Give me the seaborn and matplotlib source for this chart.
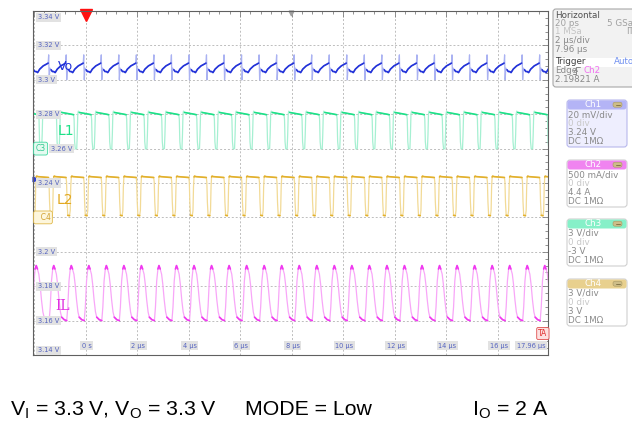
import numpy as np
import pandas as pd
import matplotlib
matplotlib.use('Agg')
import matplotlib.pyplot as plt
import seaborn as sns
from matplotlib.patches import FancyBboxPatch, Rectangle

# screen span (Ch1 scale is used for the graticule labels)
t_left, t_right = -2.04, 17.96
v_bottom, v_top = 3.14, 3.34
period_us = 0.681
t_first_peak = 0.128

grid_volts = [3.34, 3.32, 3.30, 3.28, 3.26, 3.24, 3.22, 3.20, 3.18, 3.16, 3.14]
volt_labels = ['3.34 V', '3.32 V', '3.3 V', '3.28 V', '3.26 V', '3.24 V', '', '3.2 V', '3.18 V', '3.16 V', '3.14 V']
time_ticks = [0, 2, 4, 6, 8, 10, 12, 14, 16]
time_labels = ['0 s', '2 µs', '4 µs', '6 µs', '8 µs', '10 µs', '12 µs', '14 µs', '16 µs']

# one switching cycle of each trace, phase 0 = inductor current peak
vo_phase = [0.00, 0.08, 0.20, 0.40, 0.60, 0.68, 0.71, 0.74, 0.78, 0.85, 0.92]
vo_volt = [3.3048, 3.3042, 3.3062, 3.3081, 3.3092, 3.3097, 3.3145, 3.3000, 3.3068, 3.3058, 3.3048]
vo_dark = [1, 1, 1, 1, 1, 1, 0, 0, 0, 1, 1]

l1_phase = [0.00, 0.13, 0.16, 0.19, 0.23, 0.31, 0.34, 0.37, 0.40, 0.46]
l1_volt = [3.2800, 3.2797, 3.2770, 3.2640, 3.2598, 3.2600, 3.2680, 3.2800, 3.2818, 3.2810]
l1_dark = [1, 1, 0, 0, 0, 0, 0, 0, 0, 1]

l2_phase = [0.00, 0.03, 0.10, 0.70, 0.73, 0.76, 0.80, 0.90, 0.94, 0.97]
l2_volt = [3.2435, 3.2440, 3.2437, 3.2432, 3.2405, 3.2290, 3.2212, 3.2210, 3.2240, 3.2380]
l2_dark = [1, 1, 1, 1, 0, 0, 1, 1, 0, 0]

il_phase = [0.00, 0.07, 0.15, 0.22, 0.30, 0.38, 0.45, 0.60, 0.74, 0.80, 0.87, 0.94]
il_volt = [3.192, 3.190, 3.187, 3.181, 3.172, 3.165, 3.162, 3.1605, 3.160, 3.168, 3.183, 3.190]
il_dark = [1, 1, 0, 0, 0, 0, 1, 1, 1, 0, 0, 1]

traces = [
    ('Vo', vo_phase, vo_volt, vo_dark, '#aab2f2', '#2232d8'),
    ('L1', l1_phase, l1_volt, l1_dark, '#a6f0d2', '#1ee088'),
    ('L2', l2_phase, l2_volt, l2_dark, '#f2da96', '#e2b02c'),
    ('IL', il_phase, il_volt, il_dark, '#f8a6f8', '#f038f0'),
]


def trace_frame(phase, volt, dark):
    cycles = np.arange(-4, 30)
    t = (t_first_peak + (cycles[:, None] + np.array(phase)[None, :]) * period_us).ravel()
    df = pd.DataFrame({'t': t,
                       'v': np.tile(volt, len(cycles)),
                       'dark': np.tile(dark, len(cycles)).astype(bool)})
    df = df[(df.t > t_left - 1) & (df.t < t_right + 1)].reset_index(drop=True)
    df['run'] = (df['dark'] != df['dark'].shift()).cumsum()
    return df


sns.set_style('white')
plt.rcParams['font.family'] = ['DejaVu Sans']

fig = plt.figure(figsize=(6.42, 4.21), dpi=100)
ax = fig.add_axes([33 / 642, 66 / 421, 515 / 642, 344 / 421])

for name, ph, vv, dk, light, dark in traces:
    df = trace_frame(ph, vv, dk)
    sns.lineplot(data=df, x='t', y='v', color=light, lw=0.9, estimator=None,
                 sort=False, legend=False, ax=ax)
    sns.lineplot(data=df[df.dark], x='t', y='v', units='run', color=dark, lw=1.2,
                 estimator=None, sort=False, legend=False, ax=ax)

ax.set_xlim(t_left, t_right)
ax.set_ylim(v_bottom, v_top)
ax.set_xlabel('')
ax.set_ylabel('')
ax.set_xticks([-2] + time_ticks)
ax.set_yticks(grid_volts)
ax.set_xticks(np.arange(-2, 18, 0.4), minor=True)
ax.set_yticks(np.arange(3.14, 3.341, 0.004), minor=True)
ax.tick_params(which='both', direction='in', top=True, right=True, labelbottom=False,
               labelleft=False, color='#808080', width=0.6)
ax.tick_params(which='major', length=4)
ax.tick_params(which='minor', length=2.5)
ax.grid(True, which='major', color='#bdbdbd', lw=0.7, ls=(0, (2, 2)))
for s in ax.spines.values():
    s.set_color('#606060')
    s.set_linewidth(0.8)

# graticule labels
lab_box = dict(boxstyle='square,pad=0.25', fc='#e2e2e2', ec='none')
for v, lab in zip(grid_volts, volt_labels):
    if not lab:
        continue
    yv = min(max(v, 3.1428), 3.3363)
    x0 = t_left + 0.2 if v != 3.26 else t_left + 0.7
    ax.text(x0, yv, lab, fontsize=4.8, color='#5563c0', va='center', ha='left', bbox=lab_box)
for tt, lab in zip(time_ticks, time_labels):
    ax.text(tt + 0.05, 3.1455, lab, fontsize=4.8, color='#5563c0', va='center', ha='center', bbox=lab_box)
ax.text(t_right - 0.1, 3.1455, '17.96 µs', fontsize=4.8, color='#5563c0', va='center', ha='right', bbox=lab_box)

# trace names
ax.text(-0.77, 3.3079, 'Vo', fontsize=9, color='#2232d8', ha='center', va='center')
ax.text(-0.77, 3.2702, 'L1', fontsize=10, color='#1ee088', ha='center', va='center')
ax.text(-0.81, 3.2302, 'L2', fontsize=10, color='#e2a820', ha='center', va='center')
ax.text(-0.89, 3.1687, 'IL', fontsize=10, color='#e030e0', ha='center', va='center', family='DejaVu Serif')

# markers
ax.plot([0], [v_top - 0.0025], marker='v', color='#ff1010', ms=8, clip_on=False)
ax.plot([7.96], [v_top - 0.001], marker='v', color='#a0a0a0', ms=3.5, clip_on=False)
ax.plot([t_left + 0.08], [3.2425], marker='>', color='#3040d0', ms=3.5, clip_on=False)
ax.text(t_left + 0.1, 3.26, 'C3', fontsize=5.5, color='#30c890', va='center', ha='left',
        bbox=dict(boxstyle='round,pad=0.25', fc='#e4faf0', ec='#40d8a0', lw=0.6))
ax.text(t_left + 0.1, 3.22, '  C4', fontsize=5.5, color='#d0a030', va='center', ha='left',
        bbox=dict(boxstyle='round,pad=0.25', fc='#fdf6dc', ec='#e0b848', lw=0.6))
ax.text(t_right - 0.02, 3.1525, 'TA', fontsize=5.5, color='#e03030', va='center', ha='right',
        bbox=dict(boxstyle='round,pad=0.2', fc='#fde0e0', ec='#e05050', lw=0.6))

# right hand info panels, drawn in pixel units
ov = fig.add_axes([0, 0, 632 / 642, 1])
ov.set_xlim(0, 632)
ov.set_ylim(421, 0)
ov.axis('off')
ov.patch.set_alpha(0)

ov.add_patch(FancyBboxPatch((553, 9), 90, 78, boxstyle='round,pad=0,rounding_size=3',
                            fc='#f2f2f2', ec='#a8a8a8', lw=0.8, clip_on=True))
ov.add_patch(Rectangle((553.5, 57.5), 90, 9, fc='white', ec='none', clip_on=True))
fs = 6.3
hz = [(15, 'Horizontal', '#505050'), (23.5, '20 ps', '#a0a0a0'), (32, '1 MSa', '#c4c4c4'),
      (40.5, '2 µs/div', '#8a8a8a'), (49, '7.96 µs', '#8a8a8a'), (62, 'Trigger', '#404040'),
      (79, '2.19821 A', '#8a8a8a')]
for y, s, c in hz:
    ov.text(555, y, s, fontsize=fs, color=c, va='center', ha='left', clip_on=True)
ov.text(607, 23.5, '5 GSa/', fontsize=fs, color='#a0a0a0', va='center', ha='left', clip_on=True)
ov.text(626, 32, 'IT', fontsize=fs, color='#a0a0a0', va='center', ha='left', clip_on=True)
ov.text(614, 62, 'Auto', fontsize=fs, color='#7090f0', va='center', ha='left', clip_on=True)
ov.text(555, 70.5, 'Edge', fontsize=fs, color='#8a8a8a', va='center', ha='left')
ov.plot([573, 576, 576, 580], [74, 74, 67, 67], color='#8a8a8a', lw=0.7)
ov.plot([574.5, 576, 577.5], [71.5, 69.5, 71.5], color='#8a8a8a', lw=0.7)
ov.text(583, 70.5, 'Ch2', fontsize=fs, color='#f070f0', va='center', ha='left')

channels = [
    (100, 'Ch1', '#b4b4f6', '#eeeefe', '#b8b8ec', ['20 mV/div', '0 div', '3.24 V', 'DC 1MΩ']),
    (160, 'Ch2', '#f084f0', 'white', '#d0d0d0', ['500 mA/div', '0 div', '4.4 A', 'DC 1MΩ']),
    (219, 'Ch3', '#86f0c8', 'white', '#d0d0d0', ['3 V/div', '0 div', '-3 V', 'DC 1MΩ']),
    (279, 'Ch4', '#e8d08e', 'white', '#d0d0d0', ['3 V/div', '0 div', '3 V', 'DC 1MΩ']),
]
for y0, title, head, body, edge, lines in channels:
    ov.add_patch(FancyBboxPatch((567, y0), 60, 47, boxstyle='round,pad=0,rounding_size=3',
                                fc=body, ec=edge, lw=0.8))
    ov.add_patch(FancyBboxPatch((567.5, y0 + 0.5), 59, 9, boxstyle='round,pad=0,rounding_size=2.5',
                                fc=head, ec='none'))
    ov.text(593, y0 + 4.8, title, fontsize=fs, color='white', ha='center', va='center')
    ov.add_patch(FancyBboxPatch((613, y0 + 2.2), 9, 5, boxstyle='round,pad=0,rounding_size=2',
                                fc='#cdbd88', ec='#a89860', lw=0.4))
    ov.plot([615.5, 619.5], [y0 + 4.7, y0 + 4.7], color='#7a6c40', lw=0.6)
    for i, s in enumerate(lines):
        col = '#c8c8c8' if i == 1 else '#8a8a8a'
        ov.text(568.5, y0 + 14.5 + 9 * i, s, fontsize=fs, color=col, va='center', ha='left')

# caption below the screen
cap = dict(fontsize=15.3, family='Liberation Sans', color='black', va='baseline', ha='left')
fig.text(10 / 642, 1 - 415 / 421, r'V$_\mathregular{I}$ = 3.3 V, V$_\mathregular{O}$ = 3.3 V', **cap)
fig.text(245 / 642, 1 - 415 / 421, 'MODE = Low', **cap)
fig.text(472 / 642, 1 - 415 / 421, r'I$_\mathregular{O}$ = 2 A', **cap)

fig.savefig('out.png', dpi=100)
